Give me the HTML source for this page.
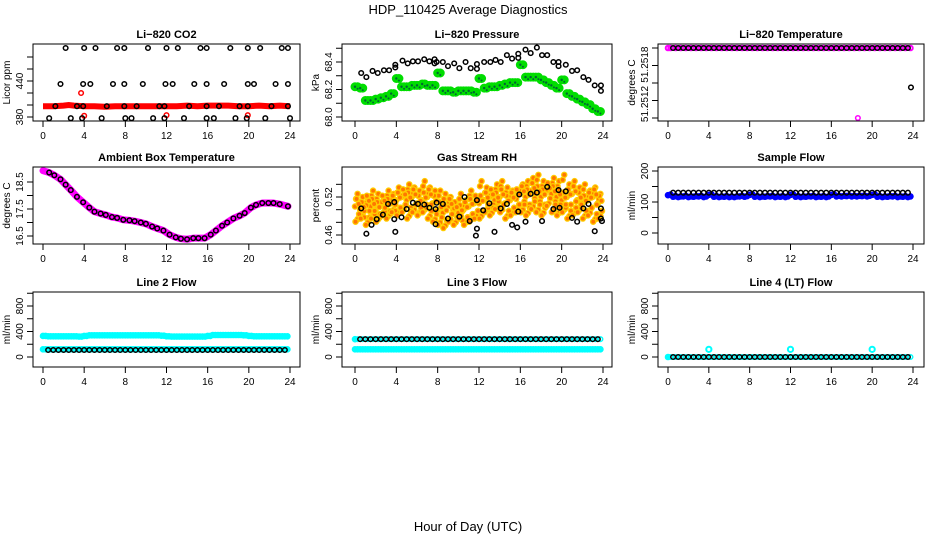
<!DOCTYPE html>
<html><head><meta charset="utf-8"><style>
html,body{margin:0;padding:0;background:#fff;}
svg{display:block;font-family:"Liberation Sans",sans-serif;}
</style></head><body>
<svg id="c" width="936" height="540" viewBox="0 0 936 540" xmlns="http://www.w3.org/2000/svg">
<rect width="936" height="540" fill="#fff"/>
<text x="468" y="14" font-size="13" text-anchor="middle">HDP_110425  Average Diagnostics</text>
<text x="468" y="531" font-size="13" text-anchor="middle">Hour of Day (UTC)</text>
</svg>
<script>
// ---------- data ----------
const xTicks = [0,4,8,12,16,20,24];
const co2TopH = [2.2,4.0,5.1,7.2,7.9,10.2,12.0,13.1,15.3,15.9,18.2,19.9,21.1,23.2,23.8];
const co2MidH = [1.7,3.9,4.6,6.8,7.9,9.7,11.9,12.6,14.7,15.9,17.6,19.9,20.5,22.6,23.8];
const co2LowH = [0.6,2.7,3.8,5.7,8.0,8.6,10.7,11.8,13.7,15.9,16.6,18.7,19.8,21.6,24.0];
const co2BaseH = [1.2,3.3,3.9,6.2,7.9,9.1,11.3,11.8,14.2,15.9,17.1,19.1,19.9,22.2,23.8];
const co2TopV = 495, co2MidV = 435, co2LowV = 378, co2BaseV = 398;
const co2RedH = [0,1,2,2.5,3,4,5,6,7,8,9,10,11,12,13,14,15,16,17,18,19,20,21,22,23,24];
const co2RedV = [398,398,399,400,399,398,398,397,398,398,398,398,398,398,398,399,398,399,399,399,398,398,399,398,399,398];
const co2OutH = [3.7,4.0,12.0,19.9];
const co2OutV = [420,382,383,383];

const presBlackH = [0.6,1.1,1.7,2.2,2.8,3.3,3.9,3.9,4.6,5.1,5.6,6.1,6.7,7.2,7.7,7.7,7.9,8.5,9.0,9.6,10.1,10.7,11.2,11.8,11.8,12.5,13.1,13.6,14.1,14.7,15.2,15.8,15.8,16.5,17.0,17.6,18.1,18.6,19.2,19.7,19.7,20.4,21.0,21.5,22.1,22.6,23.2,23.8,23.8];
const presBlackV = [68.32,68.29,68.335,68.32,68.34,68.34,68.36,68.38,68.41,68.39,68.405,68.405,68.42,68.405,68.42,68.39,68.40,68.40,68.37,68.39,68.355,68.40,68.355,68.385,68.35,68.40,68.40,68.415,68.40,68.45,68.425,68.46,68.43,68.49,68.465,68.505,68.45,68.45,68.40,68.40,68.37,68.38,68.335,68.34,68.29,68.27,68.23,68.23,68.19];
const presGreenV = [68.22,68.21,68.12,68.12,68.13,68.14,68.15,68.17,68.28,68.22,68.22,68.23,68.23,68.24,68.23,68.23,68.32,68.19,68.19,68.18,68.19,68.19,68.19,68.18,68.28,68.21,68.22,68.22,68.23,68.24,68.25,68.25,68.38,68.29,68.29,68.29,68.27,68.25,68.23,68.21,68.27,68.17,68.15,68.13,68.11,68.09,68.06,68.04];

const tempBlackV = 51.2520, tempOddH = 23.8, tempOddV = 51.25155, tempMagOddH = 18.6, tempMagOddV = 51.2512;

const ambH = [0.6,1.1,1.7,2.2,2.7,3.3,3.9,4.5,5.0,5.6,6.1,6.7,7.2,7.8,8.4,8.9,9.5,10.0,10.6,11.1,11.7,12.3,12.9,13.4,14.0,14.6,15.1,15.7,16.3,16.8,17.4,17.9,18.5,19.1,19.6,20.2,20.7,21.3,21.9,22.4,23.0,23.8];
const ambV = [18.85,18.75,18.6,18.4,18.2,17.95,17.75,17.55,17.4,17.33,17.28,17.2,17.17,17.1,17.08,17.05,17.0,16.95,16.85,16.78,16.7,16.55,16.45,16.4,16.38,16.42,16.42,16.42,16.55,16.7,16.88,17.0,17.15,17.25,17.35,17.55,17.65,17.72,17.72,17.72,17.68,17.6];

const rhUpper = [0.525,0.52,0.515,0.53,0.525,0.52,0.53,0.525,0.535,0.53,0.54,0.535,0.53,0.545,0.535,0.53,0.53,0.525,0.52,0.51,0.525,0.515,0.53,0.52,0.545,0.535,0.53,0.54,0.545,0.535,0.53,0.525,0.54,0.545,0.55,0.555,0.545,0.54,0.55,0.545,0.555,0.54,0.545,0.535,0.54,0.53,0.535,0.525];
const rhMid = [0.505,0.5,0.51,0.505,0.5,0.51,0.505,0.51,0.515,0.52,0.515,0.52,0.51,0.515,0.52,0.51,0.5,0.495,0.505,0.5,0.495,0.5,0.505,0.51,0.51,0.515,0.52,0.515,0.52,0.51,0.515,0.52,0.525,0.52,0.53,0.525,0.52,0.53,0.525,0.52,0.515,0.52,0.525,0.515,0.51,0.515,0.52,0.51];
const rhLower = [0.485,0.49,0.48,0.49,0.485,0.495,0.49,0.5,0.495,0.5,0.49,0.5,0.495,0.5,0.49,0.485,0.48,0.475,0.485,0.48,0.49,0.48,0.485,0.49,0.49,0.5,0.495,0.505,0.5,0.49,0.495,0.5,0.5,0.495,0.505,0.5,0.495,0.51,0.5,0.495,0.5,0.49,0.495,0.5,0.49,0.495,0.485,0.49];
const rhBlackH = [0.6,1.1,1.6,2.1,2.7,3.2,3.8,3.8,3.9,4.5,5.0,5.6,6.1,6.7,7.2,7.8,7.9,7.8,8.5,9.0,10.1,10.6,11.1,11.8,11.8,11.7,12.4,13.0,13.5,14.1,14.7,15.2,15.7,15.8,15.9,16.5,17.0,17.6,18.1,18.6,19.2,19.7,19.8,20.4,21.0,21.5,22.1,22.6,23.2,23.8,23.8,23.9];
const rhBlackV = [0.502,0.462,0.476,0.485,0.492,0.509,0.512,0.485,0.465,0.488,0.501,0.511,0.509,0.508,0.503,0.501,0.511,0.477,0.509,0.486,0.489,0.520,0.482,0.515,0.47,0.459,0.499,0.51,0.465,0.502,0.509,0.476,0.472,0.497,0.524,0.481,0.525,0.527,0.482,0.536,0.501,0.531,0.503,0.529,0.487,0.481,0.502,0.509,0.466,0.502,0.486,0.482];

const sampleBlackV = 130, sampleBlueV = [122,117,116,118,116,117,118,116,123,117,116,117,116,116,118,117,123,117,116,117,118,116,117,116,123,117,116,117,118,116,117,116,123,118,118,119,118,118,119,118,123,117,116,117,118,116,117,116];

const l2Upper = [330,325,325,325,325,325,325,320,330,340,340,340,340,340,340,340,340,340,340,340,340,340,340,335,325,320,320,320,320,320,320,320,330,345,345,345,345,345,345,340,330,325,325,325,325,325,325,325];
const l2Lower = 120, l2Black = 110;
const l3Black = 280, l3CyanUpper = 280, l3CyanLower = 120;
const l4Black = 0, l4SpikeH = [4,12,20], l4SpikeV = [120,120,120];

// ---------- helpers ----------
const svg = document.getElementById('c');
const NS = 'http://www.w3.org/2000/svg';
function mk(tag, attrs, parent){const e=document.createElementNS(NS,tag);for(const k in attrs)e.setAttribute(k,attrs[k]);(parent||svg).appendChild(e);return e;}
const half = []; for(let i=0;i<48;i++) half.push(i*0.5);

function panel(cfg){
  const g = mk('g',{});
  
  
  const xs = h => cfg.x0 + (cfg.x24-cfg.x0)*h/24;
  const ys = v => cfg.yA + (cfg.yB-cfg.yA)*(v-cfg.vA)/(cfg.vB-cfg.vA);
  const t = mk('text',{x:(cfg.l+cfg.r)/2,y:cfg.t-6,'font-size':11,'font-weight':'bold','text-anchor':'middle'},g);
  t.textContent = cfg.title;
  
  
  const clip = 'cl'+cfg.name;
  const cp = mk('clipPath',{id:clip},g); mk('rect',{x:cfg.l,y:cfg.t,width:cfg.r-cfg.l,height:cfg.b-cfg.t},cp);
  const plot = mk('g',{'clip-path':'url(#'+clip+')'},g);
  cfg.draw(plot, xs, ys);
  mk('rect',{x:cfg.l,y:cfg.t,width:cfg.r-cfg.l,height:cfg.b-cfg.t,fill:'none',stroke:'#000','stroke-width':1},g);
  xTicks.forEach(h=>{
    mk('line',{x1:xs(h),x2:xs(h),y1:cfg.b,y2:cfg.b+6,stroke:'#000'},g);
    const tx = mk('text',{x:xs(h),y:cfg.b+18,'font-size':10,'text-anchor':'middle'},g); tx.textContent=h;
    
    
  });
  cfg.yTicks.forEach(v=>{ if(ys(v)>=cfg.t-3 && ys(v)<=cfg.b+3) mk('line',{x1:cfg.l-6,x2:cfg.l,y1:ys(v),y2:ys(v),stroke:'#000'},g); });
  cfg.yLabels.forEach(v=>{
    const y = ys(v[0]);
    const tx = mk('text',{x:cfg.l-10,y:y,'font-size':10,'text-anchor':'middle',transform:`rotate(-90 ${cfg.l-10} ${y})`},g);
    tx.textContent = v[1];
    
    
  });
  const yl = mk('text',{x:cfg.l-23,y:(cfg.t+cfg.b)/2,'font-size':10,'text-anchor':'middle',transform:`rotate(-90 ${cfg.l-23} ${(cfg.t+cfg.b)/2})`},g);
  yl.textContent = cfg.ylab;
  
  
}
function pt(p,x,y,col,r,w,fill){const c=mk('circle',{cx:x,cy:y,r:r||2.3,fill:fill||'none',stroke:col,'stroke-width':w||1.5},p);
  
  
  return c;}

const C1={l:33,r:300,x0:43,x24:290}, C2={l:342,r:612,x0:355,x24:603}, C3={l:658,r:924,x0:668,x24:913};
const R1={t:44,b:121}, R2={t:167,b:244}, R3={t:292,b:367};

panel(Object.assign({name:'co2-panel',title:'Li\u2212820 CO2',ylab:'Licor ppm',vA:380,yA:117,vB:440,yB:81,
  yTicks:[380,400,420,440,460,480],yLabels:[[380,'380'],[440,'440']],
  draw:(p,xs,ys)=>{
    mk('polyline',{points:co2RedH.map((h,i)=>xs(h)+','+ys(co2RedV[i])).join(' '),fill:'none',stroke:'#f00','stroke-width':6},p);
    co2OutH.forEach((h,i)=>pt(p,xs(h),ys(co2OutV[i]),'#f00'));
    [[co2TopH,co2TopV],[co2MidH,co2MidV],[co2LowH,co2LowV],[co2BaseH,co2BaseV]].forEach(([hs,v])=>hs.forEach(h=>pt(p,xs(h),ys(v),'#000')));
  }},C1,R1));

panel(Object.assign({name:'pressure-panel',title:'Li\u2212820 Pressure',ylab:'kPa',vA:68.0,yA:117,vB:68.4,yB:62,
  yTicks:[68.0,68.1,68.2,68.3,68.4,68.5],yLabels:[[68.0,'68.0'],[68.2,'68.2'],[68.4,'68.4']],
  draw:(p,xs,ys)=>{
    presGreenV.forEach((v,i)=>{pt(p,xs(half[i]),ys(v),'#0d0',4,1,'#0d0');pt(p,xs(half[i]+0.25),ys(v),'#0d0',4,1,'#0d0');});
    presGreenV.forEach((v,i)=>{mk('circle',{cx:xs(half[i]),cy:ys(v),r:1.2,fill:'#063'},p);mk('circle',{cx:xs(half[i]+0.25),cy:ys(v)+2,r:1,fill:'#063'},p);});
    presBlackH.forEach((h,i)=>pt(p,xs(h),ys(presBlackV[i]),'#000'));
  }},C2,R1));

panel(Object.assign({name:'li820-temp-panel',title:'Li\u2212820 Temperature',ylab:'degrees C',vA:51.2512,yA:118,vB:51.2520,yB:48,
  yTicks:[51.2512,51.2514,51.2516,51.2518,51.2520],yLabels:[[51.25181,'51.2518'],[51.25136,'51.2512']],
  draw:(p,xs,ys)=>{
    pt(p,xs(0),ys(tempBlackV),'#f0f',2.3,2);
    for(let i=0;i<48;i++) pt(p,xs(half[i]+0.25),ys(tempBlackV),'#f0f',2.3,2);
    for(let i=1;i<48;i++) pt(p,xs(half[i]),ys(tempBlackV),'#000');
    pt(p,xs(tempOddH),ys(tempOddV),'#000');
    pt(p,xs(tempMagOddH),ys(tempMagOddV),'#f0f');
  }},C3,R1));

panel(Object.assign({name:'ambient-temp-panel',title:'Ambient Box Temperature',ylab:'degrees C',vA:16.5,yA:236,vB:18.5,yB:182,
  yTicks:[16.5,17,17.5,18,18.5],yLabels:[[16.5,'16.5'],[17.5,'17.5'],[18.5,'18.5']],
  draw:(p,xs,ys)=>{
    mk('polyline',{points:[xs(0)+','+ys(18.92)].concat(ambH.map((h,i)=>xs(h)+','+ys(ambV[i]))).join(' '),fill:'none',stroke:'#f0f','stroke-width':7,'stroke-linejoin':'round','stroke-linecap':'round'},p);
    ambH.forEach((h,i)=>pt(p,xs(h),ys(ambV[i]),'#000'));
  }},C1,R2));

panel(Object.assign({name:'rh-panel',title:'Gas Stream RH',ylab:'percent',vA:0.46,yA:235,vB:0.52,yB:197,
  yTicks:[0.46,0.48,0.50,0.52,0.54],yLabels:[[0.46,'0.46'],[0.52,'0.52']],
  draw:(p,xs,ys)=>{
    const sets = [[rhUpper,0.25,0],[rhMid,0,0],[rhLower,0.25,0],[rhMid,0.4,-0.012],[rhUpper,0.1,-0.008],[rhLower,0.4,0.008],[rhMid,0.15,0.012],[rhMid,0.35,0.004],[rhLower,0.05,-0.004]];
    sets.forEach(([arr,off,dv])=>arr.forEach((v,i)=>{
      pt(p,xs(half[i]+off),ys(v+dv),'#fc0',2.6,1.3,'#f70');
    }));
    rhBlackH.forEach((h,i)=>pt(p,xs(h),ys(rhBlackV[i]),'#000'));
  }},C2,R2));

panel(Object.assign({name:'sample-flow-panel',title:'Sample Flow',ylab:'ml/min',vA:0,yA:233,vB:200,yB:171,
  yTicks:[0,50,100,150,200],yLabels:[[0,'0'],[100,'100'],[200,'200']],
  draw:(p,xs,ys)=>{
    sampleBlueV.forEach((v,i)=>{pt(p,xs(half[i]),ys(v),'#00f',2.3,2,'#00f');pt(p,xs(half[i]+0.25),ys(v+2),'#00f',2.3,2,'#00f');});
    for(let i=1;i<48;i++) pt(p,xs(half[i]),ys(sampleBlackV),'#000');
  }},C3,R2));

const flowTicks=[0,200,400,600,800,1000], flowLabels=[[0,'0'],[400,'400'],[800,'800']];
panel(Object.assign({name:'line2-flow-panel',title:'Line 2 Flow',ylab:'ml/min',vA:0,yA:357,vB:800,yB:306,
  yTicks:flowTicks,yLabels:flowLabels,
  draw:(p,xs,ys)=>{
    l2Upper.forEach((v,i)=>{pt(p,xs(half[i]),ys(v),'#0ff',2.3,2,'#0ff');pt(p,xs(half[i]+0.25),ys(v),'#0ff',2.3,2,'#0ff');});
    for(let i=0;i<48;i++){pt(p,xs(half[i]),ys(l2Lower),'#0ff',2.3,2,'#0ff');pt(p,xs(half[i]+0.25),ys(l2Lower),'#0ff',2.3,2,'#0ff');}
    for(let i=1;i<48;i++) pt(p,xs(half[i]),ys(l2Black),'#000');
  }},C1,R3));

panel(Object.assign({name:'line3-flow-panel',title:'Line 3 Flow',ylab:'ml/min',vA:0,yA:357,vB:800,yB:306,
  yTicks:flowTicks,yLabels:flowLabels,
  draw:(p,xs,ys)=>{
    pt(p,xs(0),ys(l3CyanUpper),'#0ff',2.3,2,'#0ff');
    for(let i=0;i<48;i++){pt(p,xs(half[i]),ys(l3CyanLower),'#0ff',2.3,2,'#0ff');pt(p,xs(half[i]+0.25),ys(l3CyanLower),'#0ff',2.3,2,'#0ff');pt(p,xs(half[i]+0.25),ys(l3CyanUpper),'#0ff',2.3,1.5);}
    for(let i=1;i<48;i++) pt(p,xs(half[i]),ys(l3Black),'#000');
  }},C2,R3));

panel(Object.assign({name:'line4-flow-panel',title:'Line 4 (LT) Flow',ylab:'ml/min',vA:0,yA:357,vB:800,yB:306,
  yTicks:flowTicks,yLabels:flowLabels,
  draw:(p,xs,ys)=>{
    pt(p,xs(0),ys(l4Black),'#0ff',2.3,2,'#0ff');
    for(let i=0;i<48;i++) pt(p,xs(half[i]+0.25),ys(l4Black),'#0ff',2.3,1.5);
    l4SpikeH.forEach((h,i)=>pt(p,xs(h),ys(l4SpikeV[i]),'#0ff',2.6,2));
    for(let i=1;i<48;i++) pt(p,xs(half[i]),ys(l4Black),'#000');
  }},C3,R3));
</script>
</body></html>
